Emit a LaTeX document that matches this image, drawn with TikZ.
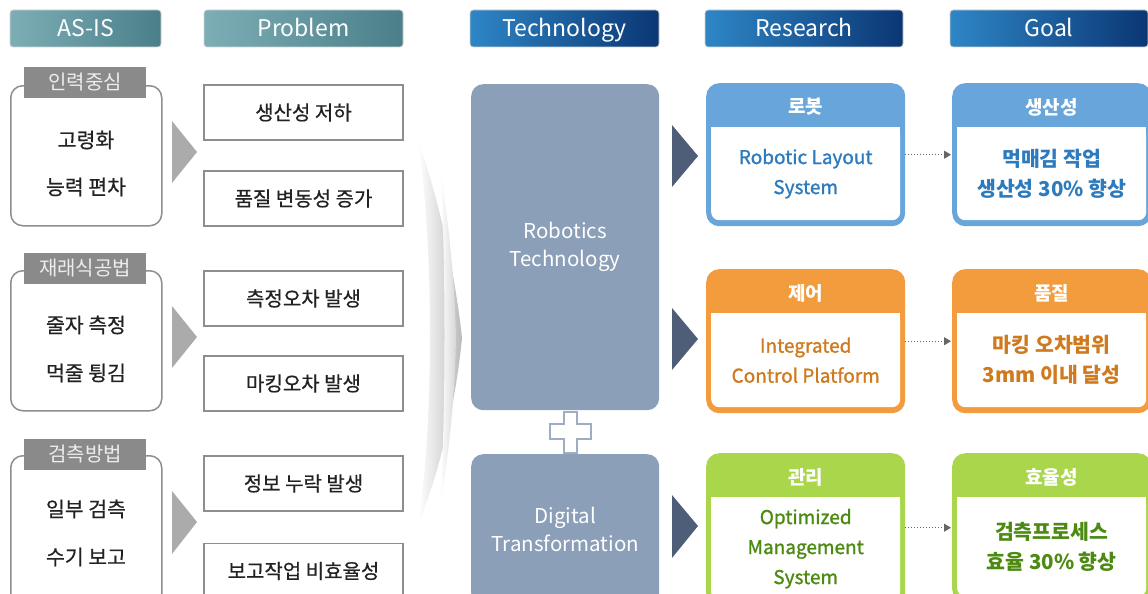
\documentclass[tikz,border=0pt]{standalone}
\usepackage{fontspec}
\setmainfont{Noto Sans CJK KR}
\newfontfamily\medfont{Noto Sans CJK KR}[FakeBold=1.2]
\newfontfamily\semifont{Noto Sans CJK KR}[FakeBold=0.5]
\usetikzlibrary{arrows.meta,calc}

\definecolor{hdrTealA}{HTML}{7DAEB6}
\definecolor{hdrTealB}{HTML}{4A7F89}
\definecolor{hdrBlueA}{HTML}{2E86C6}
\definecolor{hdrBlueB}{HTML}{0B3674}
\definecolor{hdrEdge}{HTML}{D2D2D2}
\definecolor{tabgray}{HTML}{8A8A8A}
\definecolor{tabtext}{HTML}{EDEDED}
\definecolor{framegray}{HTML}{8E8E8E}
\definecolor{arrowgray}{HTML}{ABABAB}
\definecolor{techfill}{HTML}{8C9FB8}
\definecolor{plusedge}{HTML}{9DAEC4}
\definecolor{darktri}{HTML}{4E5E78}
\definecolor{robBlue}{HTML}{68A5DA}
\definecolor{robText}{HTML}{2C7BBE}
\definecolor{ctlOrange}{HTML}{F39C3D}
\definecolor{ctlText}{HTML}{CF7A1E}
\definecolor{mgmtGreen}{HTML}{A9D64B}
\definecolor{mgmtText}{HTML}{4C8A12}
\definecolor{txt}{HTML}{222222}
\definecolor{dotline}{HTML}{666666}

% framed column box: coloured frame, heading, white body
\newcommand\ColBox[8]{%
  % #1 name, #2 left x, #3 top y, #4 bottom y, #5 frame colour, #6 heading, #7 body, #8 body style
  \node[colframe, fill=#5, minimum height={(#4-#3)*1pt}, anchor=north west] (#1) at (#2,#3) {};
  \node[colinner, minimum height={(#4-#3-50)*1pt}, anchor=north] (#1in) at ($(#1.north)+(0,44)$) {};
  \fill[white] (#1in.north west) rectangle ($(#1in.north east)+(0,14)$);
  \node[colhead] (#1hd) at ($(#1.north)+(0,24)$) {#6};
  \node[colbody, #8] (#1tx) at (#1in.center) {#7};
}

\begin{document}
\begin{tikzpicture}[x=1pt, y=-1pt,
  hdrteal/.style={rounded corners=3pt, draw=hdrEdge, line width=0.8pt,
    left color=hdrTealA, right color=hdrTealB, text=white,
    font=\fontsize{23}{26}\selectfont, minimum height=37pt, inner sep=0pt,
    text height=17pt, text depth=0pt},
  hdrblue/.style={hdrteal, left color=hdrBlueA, right color=hdrBlueB},
  groupbox/.style={draw=framegray, line width=1.5pt, rounded corners=12pt, fill=white,
    minimum width=151pt, inner sep=0pt},
  grouptab/.style={fill=tabgray, text=tabtext, minimum width=122pt, minimum height=31pt,
    inner sep=0pt, font=\fontsize{20}{22}\selectfont},
  bodytxt/.style={text=txt, font=\semifont\fontsize{20.5}{22}\selectfont, inner sep=0pt},
  probbox/.style={draw=framegray, line width=1.5pt, fill=white, minimum width=199pt,
    minimum height=55pt, inner sep=0pt, text=txt, font=\semifont\fontsize{20}{22}\selectfont},
  techbox/.style={fill=techfill, rounded corners=12pt, minimum width=188pt, inner sep=0pt,
    text=white, align=center, font=\fontsize{20.5}{28}\selectfont},
  colframe/.style={rounded corners=13pt, minimum width=199pt, inner sep=0pt},
  colinner/.style={fill=white, rounded corners=8pt, minimum width=189pt, inner sep=0pt},
  colhead/.style={text=white, font=\bfseries\fontsize{19}{20}\selectfont, inner sep=0pt},
  colbody/.style={align=center, inner sep=0pt, font=\medfont\fontsize{19}{30}\selectfont},
  goalbody/.style={font=\bfseries\fontsize{20.5}{30}\selectfont},
  conn/.style={draw=dotline, dotted, line width=1pt, shorten >=1pt,
    -{Triangle[length=7pt,width=8pt]}}
]
\useasboundingbox (0,0) rectangle (1148,594);

% column headers
\node[hdrteal, minimum width=151pt] (hAsIs) at (85.5,28.5) {AS-IS};
\node[hdrteal, minimum width=199pt] (hProb) at (303.5,28.5) {Problem};
\node[hdrblue, minimum width=189pt] (hTech) at (564.5,28.5) {Technology};
\node[hdrblue, minimum width=198pt] (hRes) at (804,28.5) {Research};
\node[hdrblue, minimum width=198pt] (hGoal) at (1049,28.5) {Goal};

% AS-IS groups
\node[groupbox, minimum height=140pt, anchor=north west] (g1) at (10,85) {};
\node[grouptab] (g1t) at (85,82.5) {인력중심};
\node[bodytxt] (g1a) at (86,140) {고령화};
\node[bodytxt] (g1b) at (86,187) {능력 편차};

\node[groupbox, minimum height=140pt, anchor=north west] (g2) at (10,270) {};
\node[grouptab] (g2t) at (85,268.5) {재래식공법};
\node[bodytxt] (g2a) at (86,325) {줄자 측정};
\node[bodytxt] (g2b) at (86,373) {먹줄 튕김};

\node[groupbox, minimum height=150pt, anchor=north west] (g3) at (10,455) {};
\node[grouptab] (g3t) at (85,454) {검측방법};
\node[bodytxt] (g3a) at (86,509) {일부 검측};
\node[bodytxt] (g3b) at (86,557) {수기 보고};

% grey pointers
\fill[arrowgray] (172,121) -- (197,152) -- (172,183) -- cycle;
\fill[arrowgray] (172,306) -- (197,337) -- (172,368) -- cycle;
\fill[arrowgray] (172,491) -- (197,522) -- (172,554) -- cycle;

% problems
\node[probbox] (p1) at (303.5,112.5) {생산성 저하};
\node[probbox] (p2) at (303.5,198.5) {품질 변동성 증가};
\node[probbox] (p3) at (303.5,298.5) {측정오차 발생};
\node[probbox] (p4) at (303.5,383.5) {마킹오차 발생};
\node[probbox] (p5) at (303.5,483.5) {정보 누락 발생};
\node[probbox] (p6) at (303.5,571) {보고작업 비효율성};

% converging sheen
\shade[left color=white, right color=black!27]
  (418,140) .. controls (446,220) and (458,300) .. (462,338)
  .. controls (458,380) and (446,456) .. (418,525)
  .. controls (434,420) and (434,250) .. (418,140) -- cycle;
\shade[left color=white, right color=black!16]
  (440,168) .. controls (450,230) and (455,290) .. (456,338)
  .. controls (455,390) and (450,450) .. (440,505)
  .. controls (446,420) and (446,250) .. (440,168) -- cycle;

% technology
\node[techbox, minimum height=326pt, anchor=north west] (tRob) at (471,84)
  {Robotics\\Technology};
\node[techbox, minimum height=151pt, anchor=north west] (tDig) at (471,454)
  {Digital\\Transformation};
\draw[draw=plusedge, line width=1.4pt, fill=white]
  (564,412) -- (577,412) -- (577,424) -- (591,424) -- (591,439) -- (577,439)
  -- (577,453) -- (564,453) -- (564,439) -- (550,439) -- (550,424) -- (564,424) -- cycle;

% dark pointers
\fill[darktri] (672,125) -- (698,156) -- (672,187) -- cycle;
\fill[darktri] (672,308) -- (698,339) -- (672,370) -- cycle;
\fill[darktri] (672,495) -- (698,526) -- (672,558) -- cycle;

% research
\ColBox{r1}{706}{83}{226}{robBlue}{로봇}{Robotic Layout\\System}{text=robText}
\ColBox{r2}{706}{269}{413}{ctlOrange}{제어}{Integrated\\Control Platform}{text=ctlText}
\ColBox{r3}{706}{453}{606}{mgmtGreen}{관리}{Optimized\\Management\\System}{text=mgmtText}

% goals
\ColBox{q1}{952}{83}{226}{robBlue}{생산성}{먹매김 작업\\생산성 30\% 향상}{text=robText, goalbody}
\ColBox{q2}{952}{269}{413}{ctlOrange}{품질}{마킹 오차범위\\3mm 이내 달성}{text=ctlText, goalbody}
\ColBox{q3}{952}{453}{602}{mgmtGreen}{효율성}{검측프로세스\\효율 30\% 향상}{text=mgmtText, goalbody}

% research to goal links
\draw[conn] (r1.east) -- (q1.west);
\draw[conn] (r2.east) -- (q2.west);
\draw[conn] ($(r3.east)+(0,-2)$) -- ($(q3.west)+(0,0)$);
\end{tikzpicture}
\end{document}
